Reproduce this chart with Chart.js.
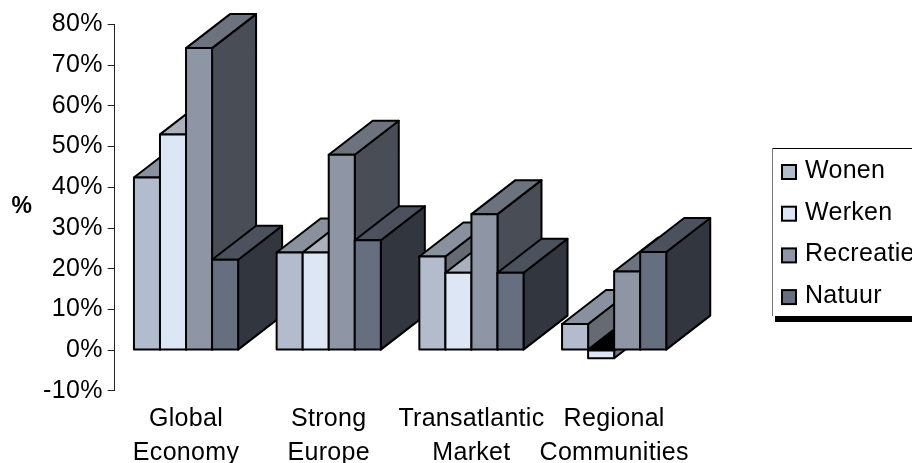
<!DOCTYPE html>
<html>
<head>
<meta charset="utf-8">
<title>Chart</title>
<script src="https://cdn.jsdelivr.net/npm/chart.js@4"></script>
<style>
  html, body { margin: 0; padding: 0; background: #fff; overflow: hidden; }
  canvas { display: block; }
</style>
</head>
<body>
<canvas id="chart" width="912" height="463"></canvas>
<script>
const categories = [['Global', 'Economy'], ['Strong', 'Europe'], ['Transatlantic', 'Market'], ['Regional', 'Communities']];
const wonen = [42.4, 24, 23, 6.4];
const werken = [53, 24, 19, -2];
const recreatie = [74.2, 48, 33.4, 19.3];
const natuur = [22.2, 27, 19, 24.1];
const seriesNames = ['Wonen', 'Werken', 'Recreatie', 'Natuur'];

const frontColors = ['#b3bccc', '#dde6f5', '#8e96a5', '#666f7f'];
const topColors = ['#8a919e', '#aab1bd', '#6c727e', '#4c525d'];
const sideColors = ['#666a72', '#70747b', '#494d56', '#32363f'];

const FONT = '"Liberation Sans", Arial, sans-serif';
const DEPTH_X = 44;
const DEPTH_Y = 34;

function face(ctx, pts, fill) {
    ctx.beginPath();
    pts.forEach((p, i) => i ? ctx.lineTo(p[0], p[1]) : ctx.moveTo(p[0], p[1]));
    ctx.closePath();
    ctx.fillStyle = fill;
    ctx.fill();
    ctx.stroke();
}

// bars have to be painted group by group, left to right, or the depth faces overlap wrongly
const bars3d = {
    id: 'bars3d',
    beforeDraw(chart) {
        chart.ctx.letterSpacing = '0.3px';
    },
    beforeDatasetsDraw(chart) {
        const ctx = chart.ctx;
        ctx.save();
        ctx.lineWidth = 2;
        ctx.lineJoin = 'round';
        ctx.strokeStyle = '#000';
        categories.forEach((c, j) => {
            chart.data.datasets.forEach((ds, i) => {
                const bar = chart.getDatasetMeta(i).data[j];
                const l = bar.x - bar.width / 2;
                const r = bar.x + bar.width / 2;
                const negative = ds.data[j] < 0;
                const top = negative ? bar.base : bar.y;
                const bottom = negative ? bar.y : bar.base;
                face(ctx, [[r, top], [r + DEPTH_X, top - DEPTH_Y], [r + DEPTH_X, bottom - DEPTH_Y], [r, bottom]], sideColors[i]);
                // a negative bar shows the dark inside of its lid
                face(ctx, [[l, top], [l + DEPTH_X, top - DEPTH_Y], [r + DEPTH_X, top - DEPTH_Y], [r, top]], negative ? '#000' : topColors[i]);
                bar.draw(ctx);
                ctx.strokeRect(l, top, r - l, bottom - top);
            });
        });
        ctx.restore();
        return false;
    },
    afterDraw(chart) {
        const ctx = chart.ctx;
        ctx.save();
        // legend box, runs off the right edge like the original
        ctx.fillStyle = '#000';
        ctx.fillRect(775, 316, 137, 6);
        ctx.fillStyle = '#fff';
        ctx.fillRect(772, 148, 140, 168);
        ctx.strokeStyle = '#000';
        ctx.lineWidth = 1;
        ctx.beginPath();
        ctx.moveTo(912, 148.5);
        ctx.lineTo(772.5, 148.5);
        ctx.stroke();
        ctx.strokeStyle = '#777';
        ctx.beginPath();
        ctx.moveTo(772.5, 148.5);
        ctx.lineTo(772.5, 316);
        ctx.stroke();
        ctx.font = '25px ' + FONT;
        ctx.textBaseline = 'middle';
        seriesNames.forEach((name, i) => {
            const y = 172 + i * 41.7;
            ctx.fillStyle = frontColors[i];
            ctx.strokeStyle = '#000';
            ctx.lineWidth = 2;
            ctx.fillRect(782, y - 7, 14, 14);
            ctx.strokeRect(782, y - 7, 14, 14);
            ctx.fillStyle = '#000';
            ctx.fillText(name, 805, y - 1);
        });
        // horizontal axis title
        ctx.font = 'bold 23px ' + FONT;
        ctx.textAlign = 'center';
        ctx.fillText('%', 22, 207);
        ctx.restore();
    }
};

new Chart(document.getElementById('chart'), {
    type: 'bar',
    data: {
        labels: categories,
        datasets: [
            { label: seriesNames[0], data: wonen, backgroundColor: frontColors[0] },
            { label: seriesNames[1], data: werken, backgroundColor: frontColors[1] },
            { label: seriesNames[2], data: recreatie, backgroundColor: frontColors[2] },
            { label: seriesNames[3], data: natuur, backgroundColor: frontColors[3] }
        ]
    },
    options: {
        responsive: false,
        animation: false,
        layout: { padding: { top: 24.5, right: 226.5, left: 0, bottom: 0 } },
        datasets: {
            bar: {
                categoryPercentage: 0.73,
                barPercentage: 1,
                borderWidth: 0
            }
        },
        plugins: {
            legend: { display: false },
            tooltip: { enabled: false }
        },
        scales: {
            x: {
                grid: { display: false },
                border: { display: false },
                ticks: {
                    color: '#000',
                    font: { family: FONT, size: 25, lineHeight: 1.36 },
                    padding: 3,
                    maxRotation: 0,
                    autoSkip: false
                },
                afterFit: (s) => { s.height = 72.2; }
            },
            y: {
                min: -10,
                max: 80,
                grid: { drawOnChartArea: false, tickLength: 7, color: '#222', lineWidth: 1 },
                border: { color: '#222', width: 1 },
                ticks: {
                    stepSize: 10,
                    color: '#000',
                    padding: 5,
                    font: { family: FONT, size: 25 },
                    callback: (v) => v + '%'
                },
                afterFit: (s) => { s.width = 114.67; }
            }
        }
    },
    plugins: [bars3d]
});
</script>
</body>
</html>
